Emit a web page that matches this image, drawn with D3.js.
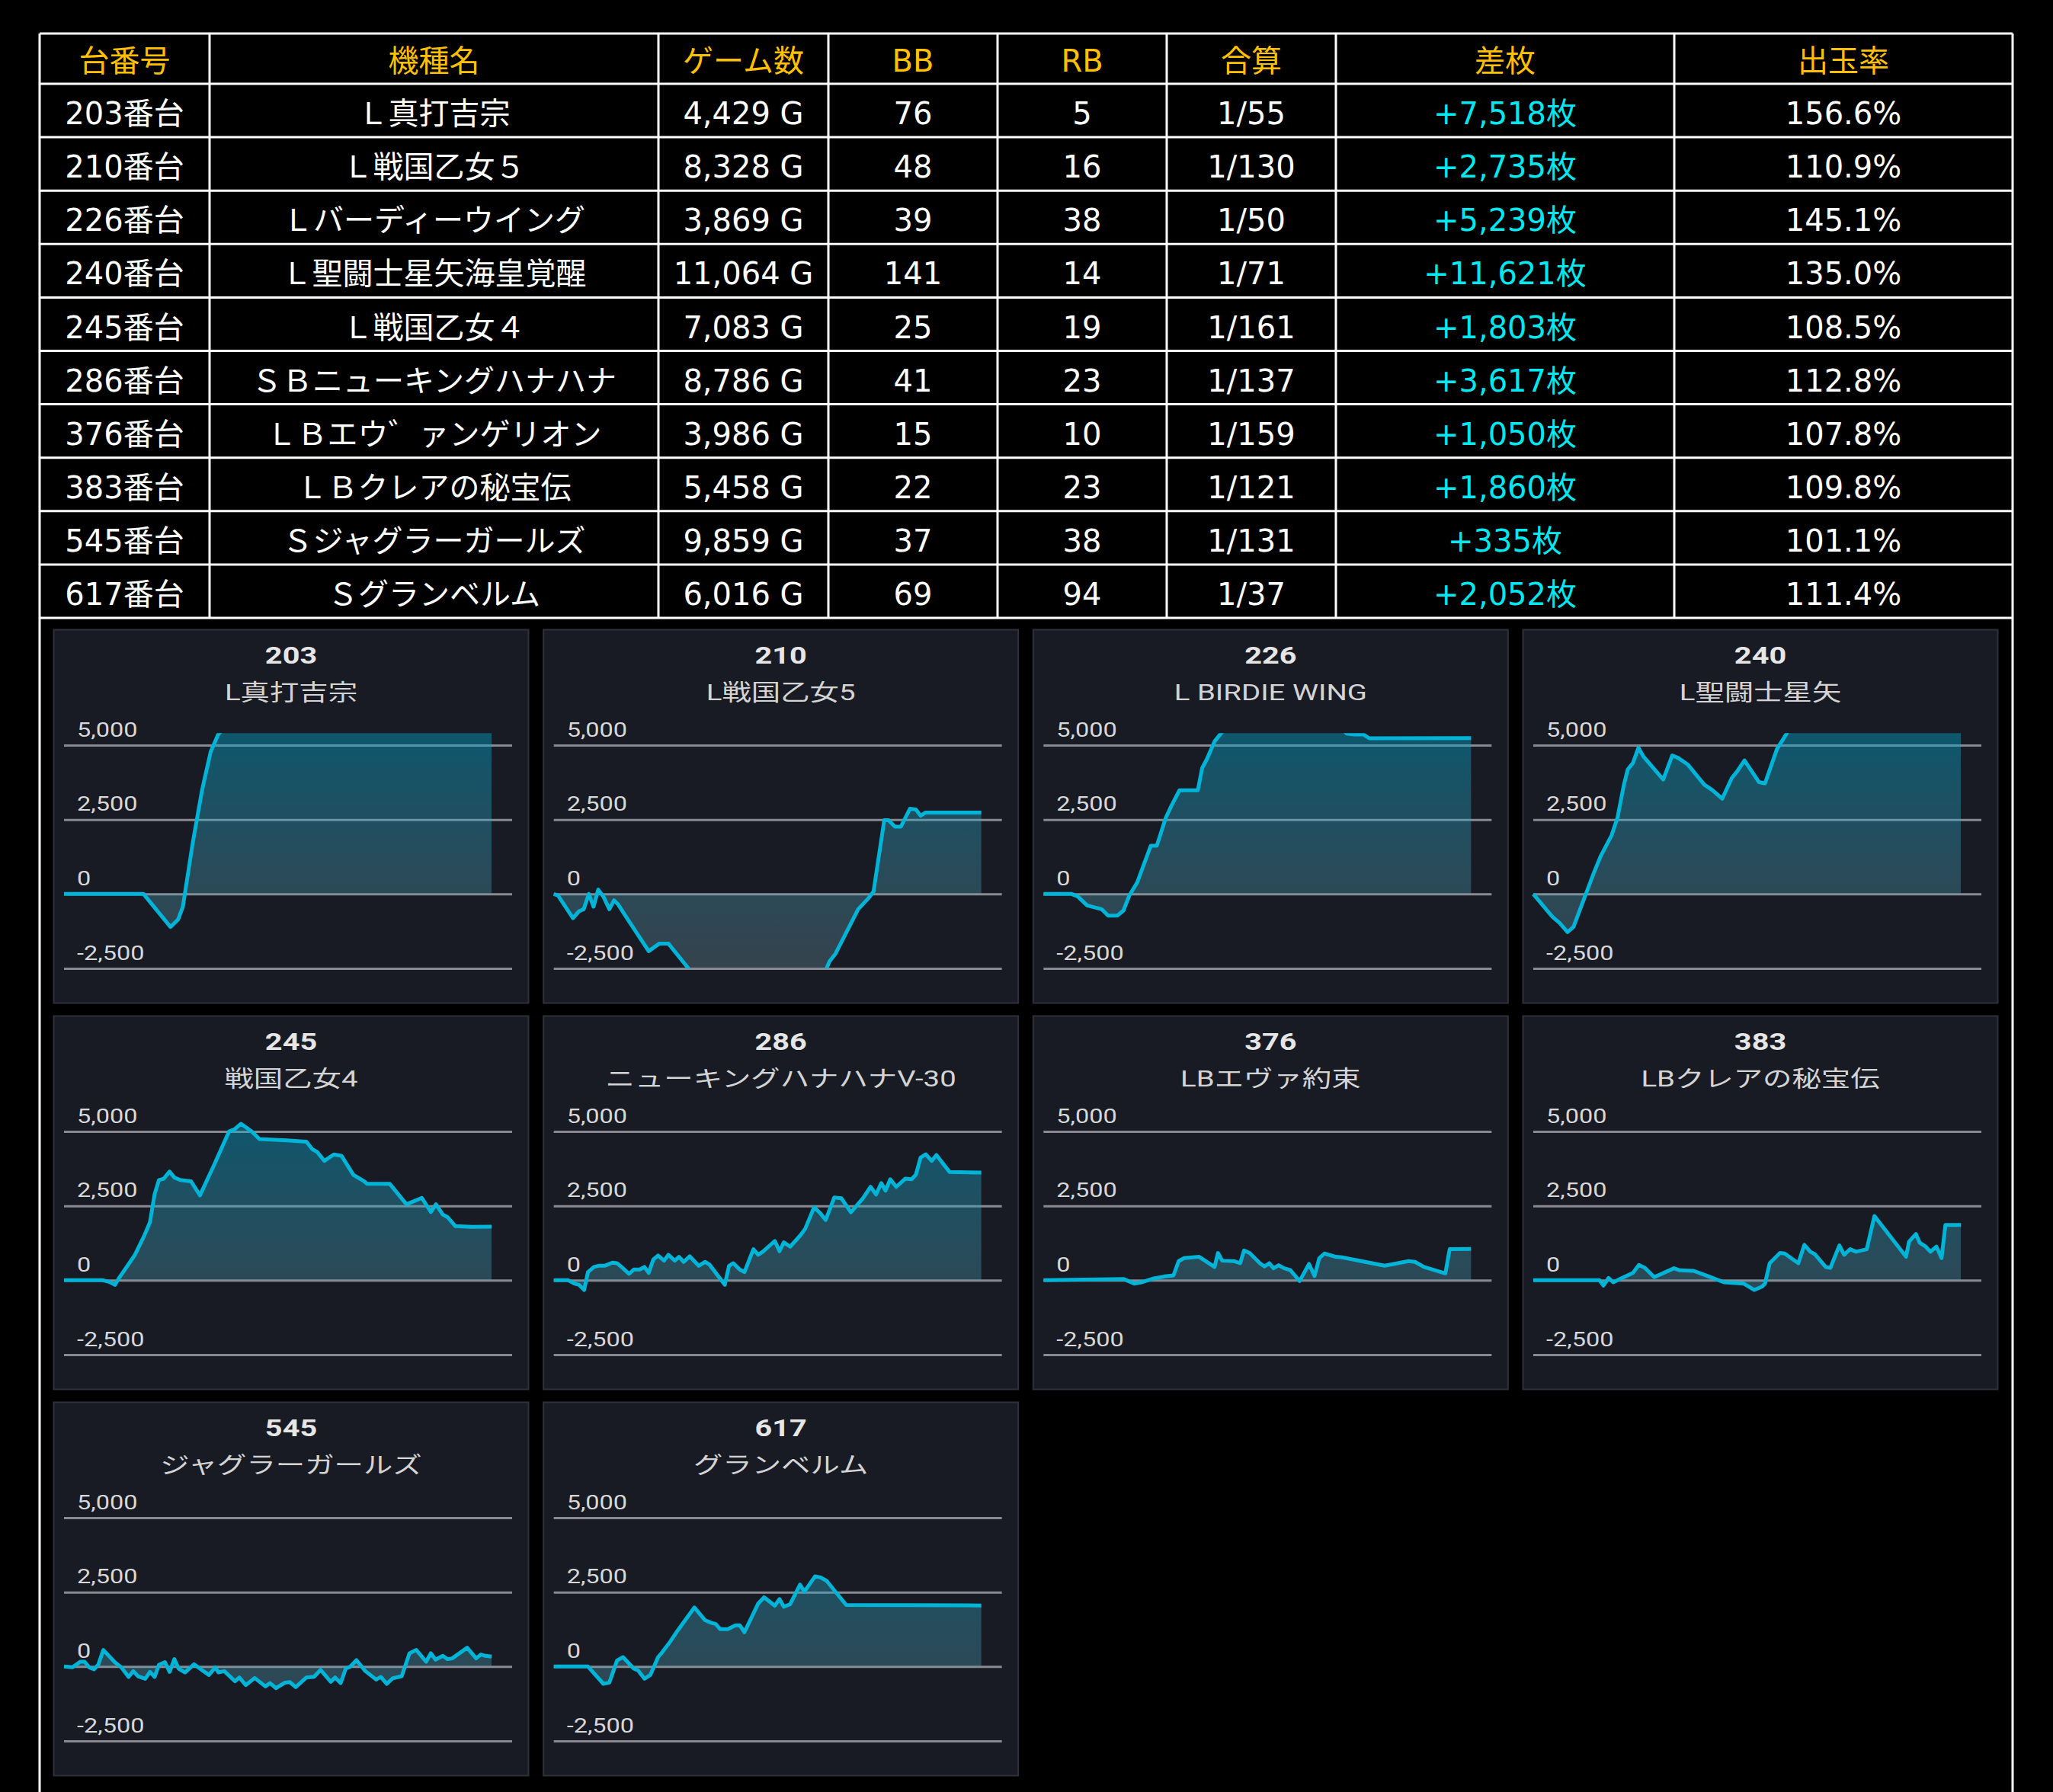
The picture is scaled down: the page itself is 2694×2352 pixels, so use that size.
<!DOCTYPE html>
<html>
<head>
<meta charset="utf-8">
<script src="https://cdn.jsdelivr.net/npm/d3@7"></script>
<style>
html, body { margin: 0; padding: 0; background: #000; }
svg { display: block; }
</style>
</head>
<body>
<script>
const W = 2694, H = 2352;

// table data
const headers = ["台番号", "機種名", "ゲーム数", "BB", "RB", "合算", "差枚", "出玉率"];
const unitNos = ["203番台", "210番台", "226番台", "240番台", "245番台", "286番台", "376番台", "383番台", "545番台", "617番台"];
const machineNames = ["Ｌ真打吉宗", "Ｌ戦国乙女５", "Ｌバーディーウイング", "Ｌ聖闘士星矢海皇覚醒", "Ｌ戦国乙女４",
  "ＳＢニューキングハナハナ", "ＬＢエウ゛ァンゲリオン", "ＬＢクレアの秘宝伝", "Ｓジャグラーガールズ", "Ｓグランベルム"];
const gameCounts = ["4,429 G", "8,328 G", "3,869 G", "11,064 G", "7,083 G", "8,786 G", "3,986 G", "5,458 G", "9,859 G", "6,016 G"];
const bbCounts = [76, 48, 39, 141, 25, 41, 15, 22, 37, 69];
const rbCounts = [5, 16, 38, 14, 19, 23, 10, 23, 38, 94];
const combined = ["1/55", "1/130", "1/50", "1/71", "1/161", "1/137", "1/159", "1/121", "1/131", "1/37"];
const diffCoins = ["+7,518枚", "+2,735枚", "+5,239枚", "+11,621枚", "+1,803枚", "+3,617枚", "+1,050枚", "+1,860枚", "+335枚", "+2,052枚"];
const payout = ["156.6%", "110.9%", "145.1%", "135.0%", "108.5%", "112.8%", "107.8%", "109.8%", "101.1%", "111.4%"];

// chart data: [progress %, coin difference]
const chartNos = ["203", "210", "226", "240", "245", "286", "376", "383", "545", "617"];
const chartTitles = ["L真打吉宗", "L戦国乙女5", "L BIRDIE WING", "L聖闘士星矢", "戦国乙女4",
  "ニューキングハナハナV-30", "LBエヴァ約束", "LBクレアの秘宝伝", "ジャグラーガールズ", "グランベルム"];
const yTicks = [-2500, 0, 2500, 5000];

const s203 = [[0,0],[18.6,0],[24.9,-1109],[26.7,-853],[27.8,-427],[30.1,1706],[32.3,3497],[34.3,4777],[36.1,5374],[45,6500],[70,7300],[100,7518]];
const s210 = [[0,0],[1,-50],[4.5,-811],[5.9,-580],[7,-512],[8.2,0],[9.3,-427],[10.4,145],[11.6,-85],[13,-512],[14.1,-213],[15,-342],[17.3,-854],
  [22.2,-1921],[24.7,-1665],[26.8,-1665],[31.5,-2500],[33,-2750],[48,-3800],[62.5,-2750],[63.8,-2500],[64.5,-2263],[65.9,-2007],[71.2,-512],
  [73.7,-128],[74.8,85],[77.3,2477],[78.3,2477],[79.8,2263],[81.2,2263],[83.3,2861],[84.7,2835],[85.8,2630],[86.9,2733],[100,2735]];
const s226 = [[0,0],[6.6,0],[8,-85],[10.2,-384],[13.6,-512],[15.1,-726],[17.3,-726],[18.7,-555],[20.1,-43],[21.9,384],[25.1,1623],[26.5,1623],
  [28.6,2562],[30,2989],[31.8,3484],[36.1,3484],[37.1,4227],[38.2,4526],[40,5124],[41.8,5450],[55,6200],[69.5,5600],[70.9,5390],[72.7,5360],
  [74.8,5360],[76.2,5230],[100,5239]];
const s240 = [[0,0],[4.5,-769],[6.2,-982],[8,-1281],[9.4,-1110],[14.1,683],[15.8,1281],[18.3,1964],[19.7,2562],[21.2,3672],[22.1,4185],
  [23.3,4398],[24.6,4911],[25.8,4612],[30.4,3843],[32.5,4654],[33.9,4569],[36.1,4355],[40,3672],[41.8,3501],[44.2,3202],[46.4,3886],
  [47.8,4142],[49.4,4484],[52.8,3758],[54.2,3715],[57,4868],[59.3,5397],[62,6200],[80,9000],[100,11621]];
const s245 = [[0,0],[9.1,0],[10.5,-52],[11.9,-155],[13,103],[16.5,833],[18.7,1477],[20.1,1950],[21.2,2895],[22.2,3367],[23.3,3410],
  [24.7,3651],[25.8,3453],[27.2,3367],[29.7,3324],[31.8,2852],[35,3840],[38.6,5000],[40,5085],[41.4,5257],[43.9,5000],[45.7,4742],
  [52.1,4699],[56.7,4656],[58.1,4398],[59.2,4312],[60.9,4012],[63.1,4226],[64.9,4183],[67.7,3539],[70.2,3324],[70.9,3238],[76.2,3238],
  [80.1,2551],[83.7,2766],[85.8,2293],[87,2551],[88.6,2208],[89.7,2122],[91.5,1821],[95.4,1795],[100,1803]];
const s286 = [[0,0],[3.4,0],[4.8,-111],[5.9,-154],[7.1,-325],[8,274],[9.4,445],[10.5,487],[11.9,487],[13.7,590],[14.8,573],[16.2,402],
  [17.6,214],[18.7,359],[20.1,359],[21.2,445],[22.2,248],[23.3,701],[24.4,829],[25.8,658],[26.8,855],[28.3,658],[29.3,787],[30.4,616],
  [31.8,804],[33.9,487],[35.4,616],[36.4,530],[40,-154],[41,487],[42,573],[43.5,359],[44.6,274],[46.7,1043],[47.8,855],[48.9,958],
  [51.7,1317],[52.8,975],[53.8,1274],[55.3,1129],[57.7,1513],[58.8,1727],[60.9,2454],[62.4,2240],[63.6,2026],[65.6,2779],[67.3,2753],
  [69.5,2283],[72.3,2753],[74.1,3138],[75.4,2881],[76.6,3266],[77.6,3010],[78.7,3394],[80.1,3138],[82.2,3411],[83.7,3394],[84.7,3548],
  [85.8,4121],[87,4232],[88.4,4010],[89.5,4206],[92.6,3634],[100,3617]];
const s376 = [[0,0],[18.7,43],[21.2,-111],[23,-68],[25.8,60],[28.3,128],[30.4,162],[31.6,641],[32.9,744],[36.4,787],[40,445],[40.8,915],
  [41.8,658],[44.6,641],[46,573],[46.9,1000],[48.2,915],[50.6,573],[51.7,462],[52.8,573],[53.8,402],[55,504],[56.3,402],[57.7,342],
  [59.9,-26],[62.1,547],[63.4,145],[64.5,744],[65.7,898],[68.4,787],[69.8,770],[79.8,487],[85.4,641],[86.9,616],[89,445],[94,231],
  [95,1043],[100,1050]];
const s383 = [[0,0],[15.5,0],[16.4,-180],[17.6,77],[18.7,-68],[20.8,77],[23.3,248],[24.7,513],[26.1,419],[28.3,103],[32.9,402],[34.3,333],
  [37.5,316],[40.7,145],[44.6,-68],[49.2,-111],[51.7,-325],[53.5,-214],[54.2,-111],[55.3,573],[57.7,915],[58.8,898],[62,573],[63.4,1188],
  [64.8,958],[65.9,872],[68.4,445],[69.5,419],[71.6,1171],[72.7,855],[74.1,1043],[75.5,958],[78,1043],[79.8,2155],[81.9,1770],[87.2,787],
  [87.9,1300],[89.5,1556],[90.4,1257],[91.8,1129],[92.9,958],[94.3,1129],[95.5,744],[96.4,1855],[100,1860]];
const s545 = [[0,0],[2,-26],[3.8,162],[4.8,162],[5.9,-26],[7,-94],[8,60],[9.2,556],[11.9,145],[13.4,-26],[15.1,-350],[16.2,-154],
  [17.3,-325],[19,-410],[20.1,-180],[21.2,-350],[22.2,60],[23.6,145],[24.7,-180],[25.8,248],[26.8,-68],[28.3,-197],[30.4,77],[32.2,-111],
  [33.9,-282],[35.4,-26],[36.1,-197],[37.5,-154],[40,-496],[41,-368],[42.5,-624],[44.6,-385],[47.1,-667],[48.2,-556],[49.6,-727],
  [51.7,-539],[52.8,-522],[54.2,-693],[56.7,-368],[58.5,-342],[60,-111],[62.4,-513],[63.4,-368],[64.7,-556],[65.9,-68],[67,0],[68.4,214],
  [70.5,-154],[73,-436],[74.1,-350],[75.5,-581],[76.9,-393],[79,-325],[80.8,445],[82.4,556],[84.7,162],[85.8,445],[86.9,231],[88.6,359],
  [89.7,248],[90.8,274],[94.3,633],[96.4,274],[97.5,402],[98.6,359],[100,335]];
const s617 = [[0,0],[8,0],[11.6,-581],[13,-539],[14.8,205],[16.2,316],[18.7,-68],[19.7,-128],[21.2,-410],[22.6,-282],[24.4,316],[25.4,487],
  [27.2,829],[29,1214],[32.9,1984],[35.4,1556],[36.8,1471],[37.9,1428],[38.9,1257],[40.7,1257],[42.5,1385],[43.5,1385],[44.6,1154],
  [47.8,2112],[49.2,2326],[51.7,2043],[52.8,2266],[53.8,2009],[55.3,2095],[57.6,2753],[58.6,2514],[61.1,3027],[62.4,2993],[63.8,2881],
  [68.4,2069],[100,2052]];
const chartSeries = [s203, s210, s226, s240, s245, s286, s376, s383, s545, s617];

const svg = d3.select("body").append("svg").attr("width", W).attr("height", H);
svg.append("rect").attr("width", W).attr("height", H).attr("fill", "#000");

// ---------- table ----------
const colEdges = [52, 275, 864, 1087, 1309, 1531, 1753, 2197, 2641];
const tableTop = 44, headBottom = 110, rowH = 70.1;
const tableFont = "'DejaVu Sans', 'Noto Sans CJK JP', sans-serif";
const rows = unitNos.map((d, i) => [d, machineNames[i], gameCounts[i], bbCounts[i], rbCounts[i], combined[i], diffCoins[i], payout[i]]);
const rowY = d3.scaleLinear().domain([0, rows.length]).range([headBottom, headBottom + rows.length * rowH]);
const colMid = i => (colEdges[i] + colEdges[i + 1]) / 2;

const table = svg.append("g");
table.selectAll("text.head").data(headers).join("text")
  .attr("class", "head")
  .attr("x", (d, i) => colMid(i))
  .attr("y", headBottom - 16)
  .attr("text-anchor", "middle")
  .attr("font-family", tableFont)
  .attr("font-size", 40)
  .attr("fill", "#ffc000")
  .text(d => d);

table.selectAll("g.row").data(rows).join("g")
  .attr("class", "row")
  .each(function(r, ri) {
    d3.select(this).selectAll("text").data(r).join("text")
      .attr("x", (d, i) => colMid(i))
      .attr("y", rowY(ri + 1) - 17)
      .attr("text-anchor", "middle")
      .attr("font-family", tableFont)
      .attr("font-size", 40)
      .attr("fill", (d, i) => i === 6 ? "#00e8f0" : "#fff")
      .text(d => d);
  });

const hLines = [tableTop].concat(d3.range(rows.length + 1).map(i => rowY(i)));
table.selectAll("line.h").data(hLines).join("line")
  .attr("x1", colEdges[0]).attr("x2", colEdges[colEdges.length - 1])
  .attr("y1", d => d).attr("y2", d => d)
  .attr("stroke", "#fff").attr("stroke-width", 3);
table.selectAll("line.v").data(colEdges).join("line")
  .attr("x1", d => d).attr("x2", d => d)
  .attr("y1", tableTop)
  .attr("y2", (d, i) => (i === 0 || i === colEdges.length - 1) ? H : rowY(rows.length))
  .attr("stroke", "#fff").attr("stroke-width", 3);

// ---------- charts ----------
const panelW = 624, panelH = 491;
const panelX = d3.scaleLinear().domain([0, 3]).range([70, 1998]);
const panelY = d3.scaleLinear().domain([0, 2]).range([826, 1840]);
const x = d3.scaleLinear().domain([0, 100]).range([14, 575]);
const y = d3.scaleLinear().domain([-2500, 5000]).range([445, 152]);
const clipMax = 5400;
const chartFont = "Roboto, 'Noto Sans CJK JP', sans-serif";
const stretch = 1.28; // chart text is drawn wide

const defs = svg.append("defs");
defs.append("clipPath").attr("id", "plotClip")
  .append("rect")
  .attr("x", 0).attr("width", panelW)
  .attr("y", y(clipMax)).attr("height", y(-2500) - y(clipMax));
const grad = defs.append("linearGradient").attr("id", "areaGrad")
  .attr("gradientUnits", "userSpaceOnUse")
  .attr("x1", 0).attr("x2", 0).attr("y1", y(clipMax)).attr("y2", y(-2500));
grad.append("stop").attr("offset", 0).attr("stop-color", "rgb(0,170,210)").attr("stop-opacity", 0.42);
grad.append("stop").attr("offset", 1).attr("stop-color", "rgb(120,160,175)").attr("stop-opacity", 0.3);

const line = d3.line().x(d => x(d[0])).y(d => y(d[1]));
const area = d3.area().x(d => x(d[0])).y0(y(0)).y1(d => y(d[1]));
const fmt = d => d3.format(",")(d).replace("−", "-");

chartNos.forEach((no, i) => {
  const g = svg.append("g")
    .attr("transform", `translate(${panelX(i % 4)},${panelY(Math.floor(i / 4))})`);

  g.append("rect")
    .attr("x", 0.5).attr("y", 0.5)
    .attr("width", panelW - 1).attr("height", panelH - 1)
    .attr("fill", "#181b24").attr("stroke", "#2e313a").attr("stroke-width", 2);

  g.append("text")
    .attr("transform", `translate(${panelW / 2},45) scale(${stretch},1)`)
    .attr("text-anchor", "middle")
    .attr("font-family", chartFont).attr("font-weight", "bold")
    .attr("font-size", 31).attr("fill", "#e6e6e6")
    .text(no);
  g.append("text")
    .attr("transform", `translate(${panelW / 2},93) scale(${stretch},1)`)
    .attr("text-anchor", "middle")
    .attr("font-family", chartFont)
    .attr("font-size", 30).attr("fill", "#d4d4d4")
    .text(chartTitles[i]);

  g.append("g")
    .attr("transform", `translate(${x(0)},0)`)
    .call(d3.axisRight(y).tickValues(yTicks).tickSize(602 - x(0)).tickFormat(fmt))
    .call(a => a.select(".domain").remove())
    .call(a => a.selectAll("line").attr("stroke", "#898a91").attr("stroke-width", 3))
    .call(a => a.selectAll("text")
      .attr("x", 0).attr("y", 0).attr("dy", null)
      .attr("transform", "translate(17,-12) scale(1.3,1)")
      .attr("text-anchor", "start")
      .attr("font-family", chartFont).attr("font-size", 25)
      .attr("fill", "#d8d8d8"));

  const plot = g.append("g").attr("clip-path", "url(#plotClip)");
  plot.append("path").datum(chartSeries[i])
    .attr("d", area)
    .attr("fill", "url(#areaGrad)");
  plot.append("path").datum(chartSeries[i])
    .attr("d", line)
    .attr("fill", "none")
    .attr("stroke", "#00b4d8")
    .attr("stroke-width", 5)
    .attr("stroke-linejoin", "round");
});
</script>
</body>
</html>
